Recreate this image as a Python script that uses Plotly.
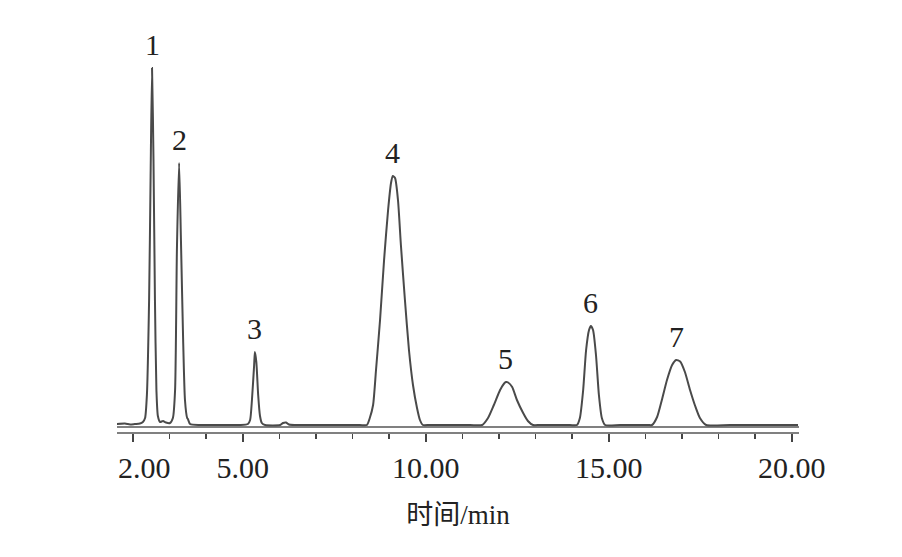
import plotly.graph_objects as go

# Chromatogram trace (time in min, detector signal in arbitrary units)
time_min = [1.56, 1.78, 1.92, 2.05, 2.19, 2.27,
            2.33, 2.38, 2.44, 2.48, 2.52, 2.56, 2.60, 2.64, 2.68, 2.74,
            2.82, 2.90, 3.01,
            3.09, 3.15, 3.20, 3.26, 3.31, 3.37, 3.42, 3.48, 3.50, 3.56,
            3.83, 4.38, 4.92, 5.14,
            5.20, 5.25, 5.31, 5.33, 5.37, 5.42, 5.47, 5.52, 5.61,
            6.02, 6.10, 6.18, 6.26, 6.43,
            7.38, 8.20,
            8.39, 8.47, 8.56, 8.64, 8.75, 8.86, 8.97, 9.05, 9.10, 9.16, 9.24, 9.32, 9.43, 9.54, 9.65, 9.76, 9.84, 9.92,
            10.11, 11.21,
            11.54, 11.70, 11.86, 12.03, 12.14, 12.19, 12.25, 12.36, 12.49, 12.66, 12.79, 12.93,
            13.12, 13.94,
            14.13, 14.21, 14.30, 14.38, 14.46, 14.51, 14.57, 14.65, 14.73, 14.81, 14.90,
            15.31, 16.07,
            16.18, 16.32, 16.45, 16.59, 16.73, 16.84, 16.95, 17.08, 17.22, 17.36, 17.49, 17.66,
            18.31, 19.40, 20.17]
signal = [1, 1.5, 0.5, 1, 1.5, 3,
          7, 30, 125, 245, 357, 265, 125, 35, 9, 3,
          4, 2.5, 2,
          7, 35, 175, 262, 185, 85, 25, 7, 6, 1,
          0, 0, 0, 1,
          5, 25, 60, 73, 63, 30, 9, 2, 0,
          0, 2, 2.5, 0.5, 0,
          0, 0,
          0, 7, 20, 55, 105, 165, 215, 242, 249, 247, 225, 180, 125, 75, 40, 17, 5, 0,
          0, 0,
          0, 7, 20, 35, 41.5, 43, 42.5, 38, 25, 12, 4, 0,
          0, 0,
          0, 7, 35, 75, 95, 99, 95, 70, 30, 7, 0,
          0, 0,
          0, 8, 25, 45, 60, 65, 63.5, 53, 35, 19, 7, 0,
          0, 0, 0]

# Peak labels (apex time, apex height)
peak_labels = ["1", "2", "3", "4", "5", "6", "7"]
peak_times = [2.52, 3.26, 5.33, 9.10, 12.19, 14.51, 16.84]
peak_heights = [357, 262, 73, 249, 43, 99, 65]

# Axis ticks
tick_vals = [2, 5, 10, 15, 20]
tick_text = ["\u00a0\u00a0\u00a02.00", "5.00", "10.00", "15.00", "20.00"]
x_range = [1.563, 20.197]
y_range = [-7, 395]

SERIF = "Liberation Serif, Times New Roman, Noto Sans CJK SC, serif"

fig = go.Figure()
fig.add_trace(go.Scatter(
    x=time_min, y=signal, mode="lines",
    line=dict(color="#4a4a4a", width=2, shape="spline", smoothing=0.6),
    hoverinfo="skip", showlegend=False,
))

for lab, t, h in zip(peak_labels, peak_times, peak_heights):
    fig.add_annotation(x=t, y=h, text=lab, showarrow=False, yanchor="middle",
                       yshift=24, font=dict(family=SERIF, size=30, color="#222222"))

# second (upper) line of the double axis line
fig.add_shape(type="line", xref="paper", x0=0, x1=1, yref="y", y0=-2, y1=-2,
              line=dict(color="#808080", width=2), layer="below")

fig.update_layout(
    width=902, height=557,
    margin=dict(l=117, r=103, t=30, b=125),
    paper_bgcolor="white", plot_bgcolor="white",
    xaxis=dict(
        range=x_range, showgrid=False, zeroline=False,
        showline=True, linecolor="#808080", linewidth=2,
        tickvals=tick_vals, ticktext=tick_text,
        ticks="outside", ticklen=8, tickwidth=1.5, tickcolor="#444444",
        minor=dict(dtick=1, tick0=0, ticks="outside", ticklen=5, tickwidth=1.5, tickcolor="#444444"),
        tickfont=dict(family=SERIF, size=30, color="#222222"),
        title=dict(text="时间/min", font=dict(family=SERIF, size=27, color="#222222"), standoff=22),
    ),
    yaxis=dict(range=y_range, visible=False, showgrid=False, zeroline=False),
)

fig.write_html("out.html", config={"displayModeBar": False, "staticPlot": True},
               post_script="document.body.style.margin='0';document.body.style.overflow='hidden';")
